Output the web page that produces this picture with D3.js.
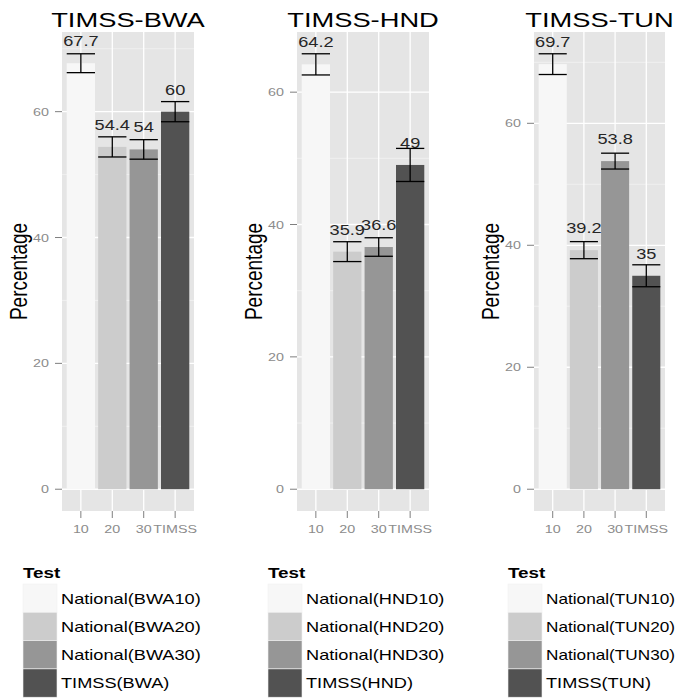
<!DOCTYPE html>
<html>
<head>
<meta charset="utf-8">
<script src="https://cdn.jsdelivr.net/npm/d3@7"></script>
<style>
  body { margin: 0; background: #fff; }
  text { font-family: "Liberation Sans", Arial, sans-serif; }
</style>
</head>
<body>
<svg id="chart"></svg>
<script>
// Data
const panelTitles = ["TIMSS-BWA", "TIMSS-HND", "TIMSS-TUN"];
const categories = ["10", "20", "30", "TIMSS"];
const yTicks = [0, 20, 40, 60];
const minorTicks = [10, 30, 50, 70];

const bwaValues = [67.7, 54.4, 54, 60];
const bwaErrors = [1.5, 1.6, 1.55, 1.6];
const hndValues = [64.2, 35.9, 36.6, 49];
const hndErrors = [1.6, 1.5, 1.4, 2.5];
const tunValues = [69.7, 39.2, 53.8, 35];
const tunErrors = [1.7, 1.4, 1.3, 1.8];

const bwaLegend = ["National(BWA10)", "National(BWA20)", "National(BWA30)", "TIMSS(BWA)"];
const hndLegend = ["National(HND10)", "National(HND20)", "National(HND30)", "TIMSS(HND)"];
const tunLegend = ["National(TUN10)", "National(TUN20)", "National(TUN30)", "TIMSS(TUN)"];

const greys = ["#F7F7F7", "#CCCCCC", "#969696", "#525252"];

const width = 678, height = 700;
const sx = 1.3; // the reference is stretched sideways
const svg = d3.select("#chart").attr("width", width).attr("height", height);

const panels = [
  { title: panelTitles[0], values: bwaValues, errors: bwaErrors, legend: bwaLegend, x0: 62, x1: 194, legX: 23 },
  { title: panelTitles[1], values: hndValues, errors: hndErrors, legend: hndLegend, x0: 297, x1: 429, legX: 268 },
  { title: panelTitles[2], values: tunValues, errors: tunErrors, legend: tunLegend, x0: 534, x1: 665, legX: 508 }
];
const plotTop = 32, plotBottom = 511;

function stretchedText(g, x, y, str, s = sx) {
  return g.append("text")
    .attr("transform", `translate(${x},${y}) scale(${s},1)`)
    .text(str);
}

panels.forEach(p => {
  const g = svg.append("g");
  const maxV = d3.max(p.values.map((v, i) => v + p.errors[i]));
  const pad = maxV * 0.05;
  const y = d3.scaleLinear().domain([-pad, maxV + pad]).range([plotBottom, plotTop]);
  const x = d3.scaleBand().domain(categories).range([p.x0, p.x1]).paddingInner(0.1).paddingOuter(0.15);
  const cx = c => x(c) + x.bandwidth() / 2;

  // panel background and grid
  g.append("rect").attr("x", p.x0).attr("y", plotTop)
    .attr("width", p.x1 - p.x0).attr("height", plotBottom - plotTop).attr("fill", "#E5E5E5");
  g.selectAll(".minor").data(minorTicks.filter(t => y(t) > plotTop)).enter().append("line")
    .attr("x1", p.x0).attr("x2", p.x1).attr("y1", d => y(d)).attr("y2", d => y(d))
    .attr("stroke", "#F2F2F2").attr("stroke-width", 0.8);
  g.selectAll(".major").data(yTicks).enter().append("line")
    .attr("x1", p.x0).attr("x2", p.x1).attr("y1", d => y(d)).attr("y2", d => y(d))
    .attr("stroke", "#fff").attr("stroke-width", 1.3);
  g.selectAll(".vgrid").data(categories).enter().append("line")
    .attr("x1", cx).attr("x2", cx).attr("y1", plotTop).attr("y2", plotBottom)
    .attr("stroke", "#fff").attr("stroke-width", 1.3);

  // bars
  g.selectAll(".bar").data(p.values).enter().append("rect")
    .attr("x", (d, i) => x(categories[i]))
    .attr("width", x.bandwidth())
    .attr("y", d => y(d))
    .attr("height", d => y(0) - y(d))
    .attr("fill", (d, i) => greys[i]);

  // error bars
  p.values.forEach((v, i) => {
    const c = categories[i];
    const lo = y(v - p.errors[i]), hi = y(v + p.errors[i]);
    const xa = x(c), xb = x(c) + x.bandwidth();
    const eb = g.append("g").attr("stroke", "#000").attr("stroke-width", 1.3);
    eb.append("line").attr("x1", xa).attr("x2", xb).attr("y1", hi).attr("y2", hi);
    eb.append("line").attr("x1", xa).attr("x2", xb).attr("y1", lo).attr("y2", lo);
    eb.append("line").attr("x1", cx(c)).attr("x2", cx(c)).attr("y1", hi).attr("y2", lo);
  });

  // value labels
  p.values.forEach((v, i) => {
    stretchedText(g, cx(categories[i]), y(v) - 17, String(v))
      .attr("text-anchor", "middle").attr("font-size", 14).attr("fill", "#262626");
  });

  // y axis ticks + labels
  yTicks.forEach(t => {
    g.append("line").attr("x1", p.x0 - 7).attr("x2", p.x0).attr("y1", y(t)).attr("y2", y(t))
      .attr("stroke", "#7F7F7F").attr("stroke-width", 1);
    stretchedText(g, p.x0 - 13, y(t) + 4, String(t))
      .attr("text-anchor", "end").attr("font-size", 11).attr("fill", "#8C8C8C");
  });

  // x axis ticks + labels
  categories.forEach(c => {
    g.append("line").attr("x1", cx(c)).attr("x2", cx(c)).attr("y1", plotBottom).attr("y2", plotBottom + 7)
      .attr("stroke", "#7F7F7F").attr("stroke-width", 1);
    stretchedText(g, cx(c), plotBottom + 22, c)
      .attr("text-anchor", "middle").attr("font-size", 11).attr("fill", "#8C8C8C");
  });

  // title
  stretchedText(g, (p.x0 + p.x1) / 2, 27, p.title)
    .attr("text-anchor", "middle").attr("font-size", 21).attr("fill", "#000");

  // y axis title
  g.append("text")
    .attr("transform", `translate(${p.x0 - 35},${(plotTop + plotBottom) / 2}) scale(${sx},1) rotate(-90)`)
    .attr("text-anchor", "middle").attr("font-size", 19).attr("fill", "#000")
    .text("Percentage");

  // legend
  const lg = svg.append("g");
  stretchedText(lg, p.legX, 578, "Test")
    .attr("font-size", 14.5).attr("font-weight", "bold").attr("fill", "#000");
  p.legend.forEach((name, i) => {
    const ky = 584 + i * 28.3;
    const lx = p.legX + 38;
    lg.append("rect").attr("x", p.legX).attr("y", ky).attr("width", 34).attr("height", 28.3)
      .attr("fill", greys[i]).attr("stroke", "#F2F2F2").attr("stroke-width", 0.6);
    const t = stretchedText(lg, lx, ky + 19.5, name)
      .attr("font-size", 14).attr("fill", "#000");
    // squeeze a label that would run past the right edge
    const w = t.node().getComputedTextLength();
    const room = width - 3 - lx;
    if (w * sx > room) {
      t.attr("transform", `translate(${lx},${ky + 19.5}) scale(${room / w},1)`);
    }
  });
});
</script>
</body>
</html>
